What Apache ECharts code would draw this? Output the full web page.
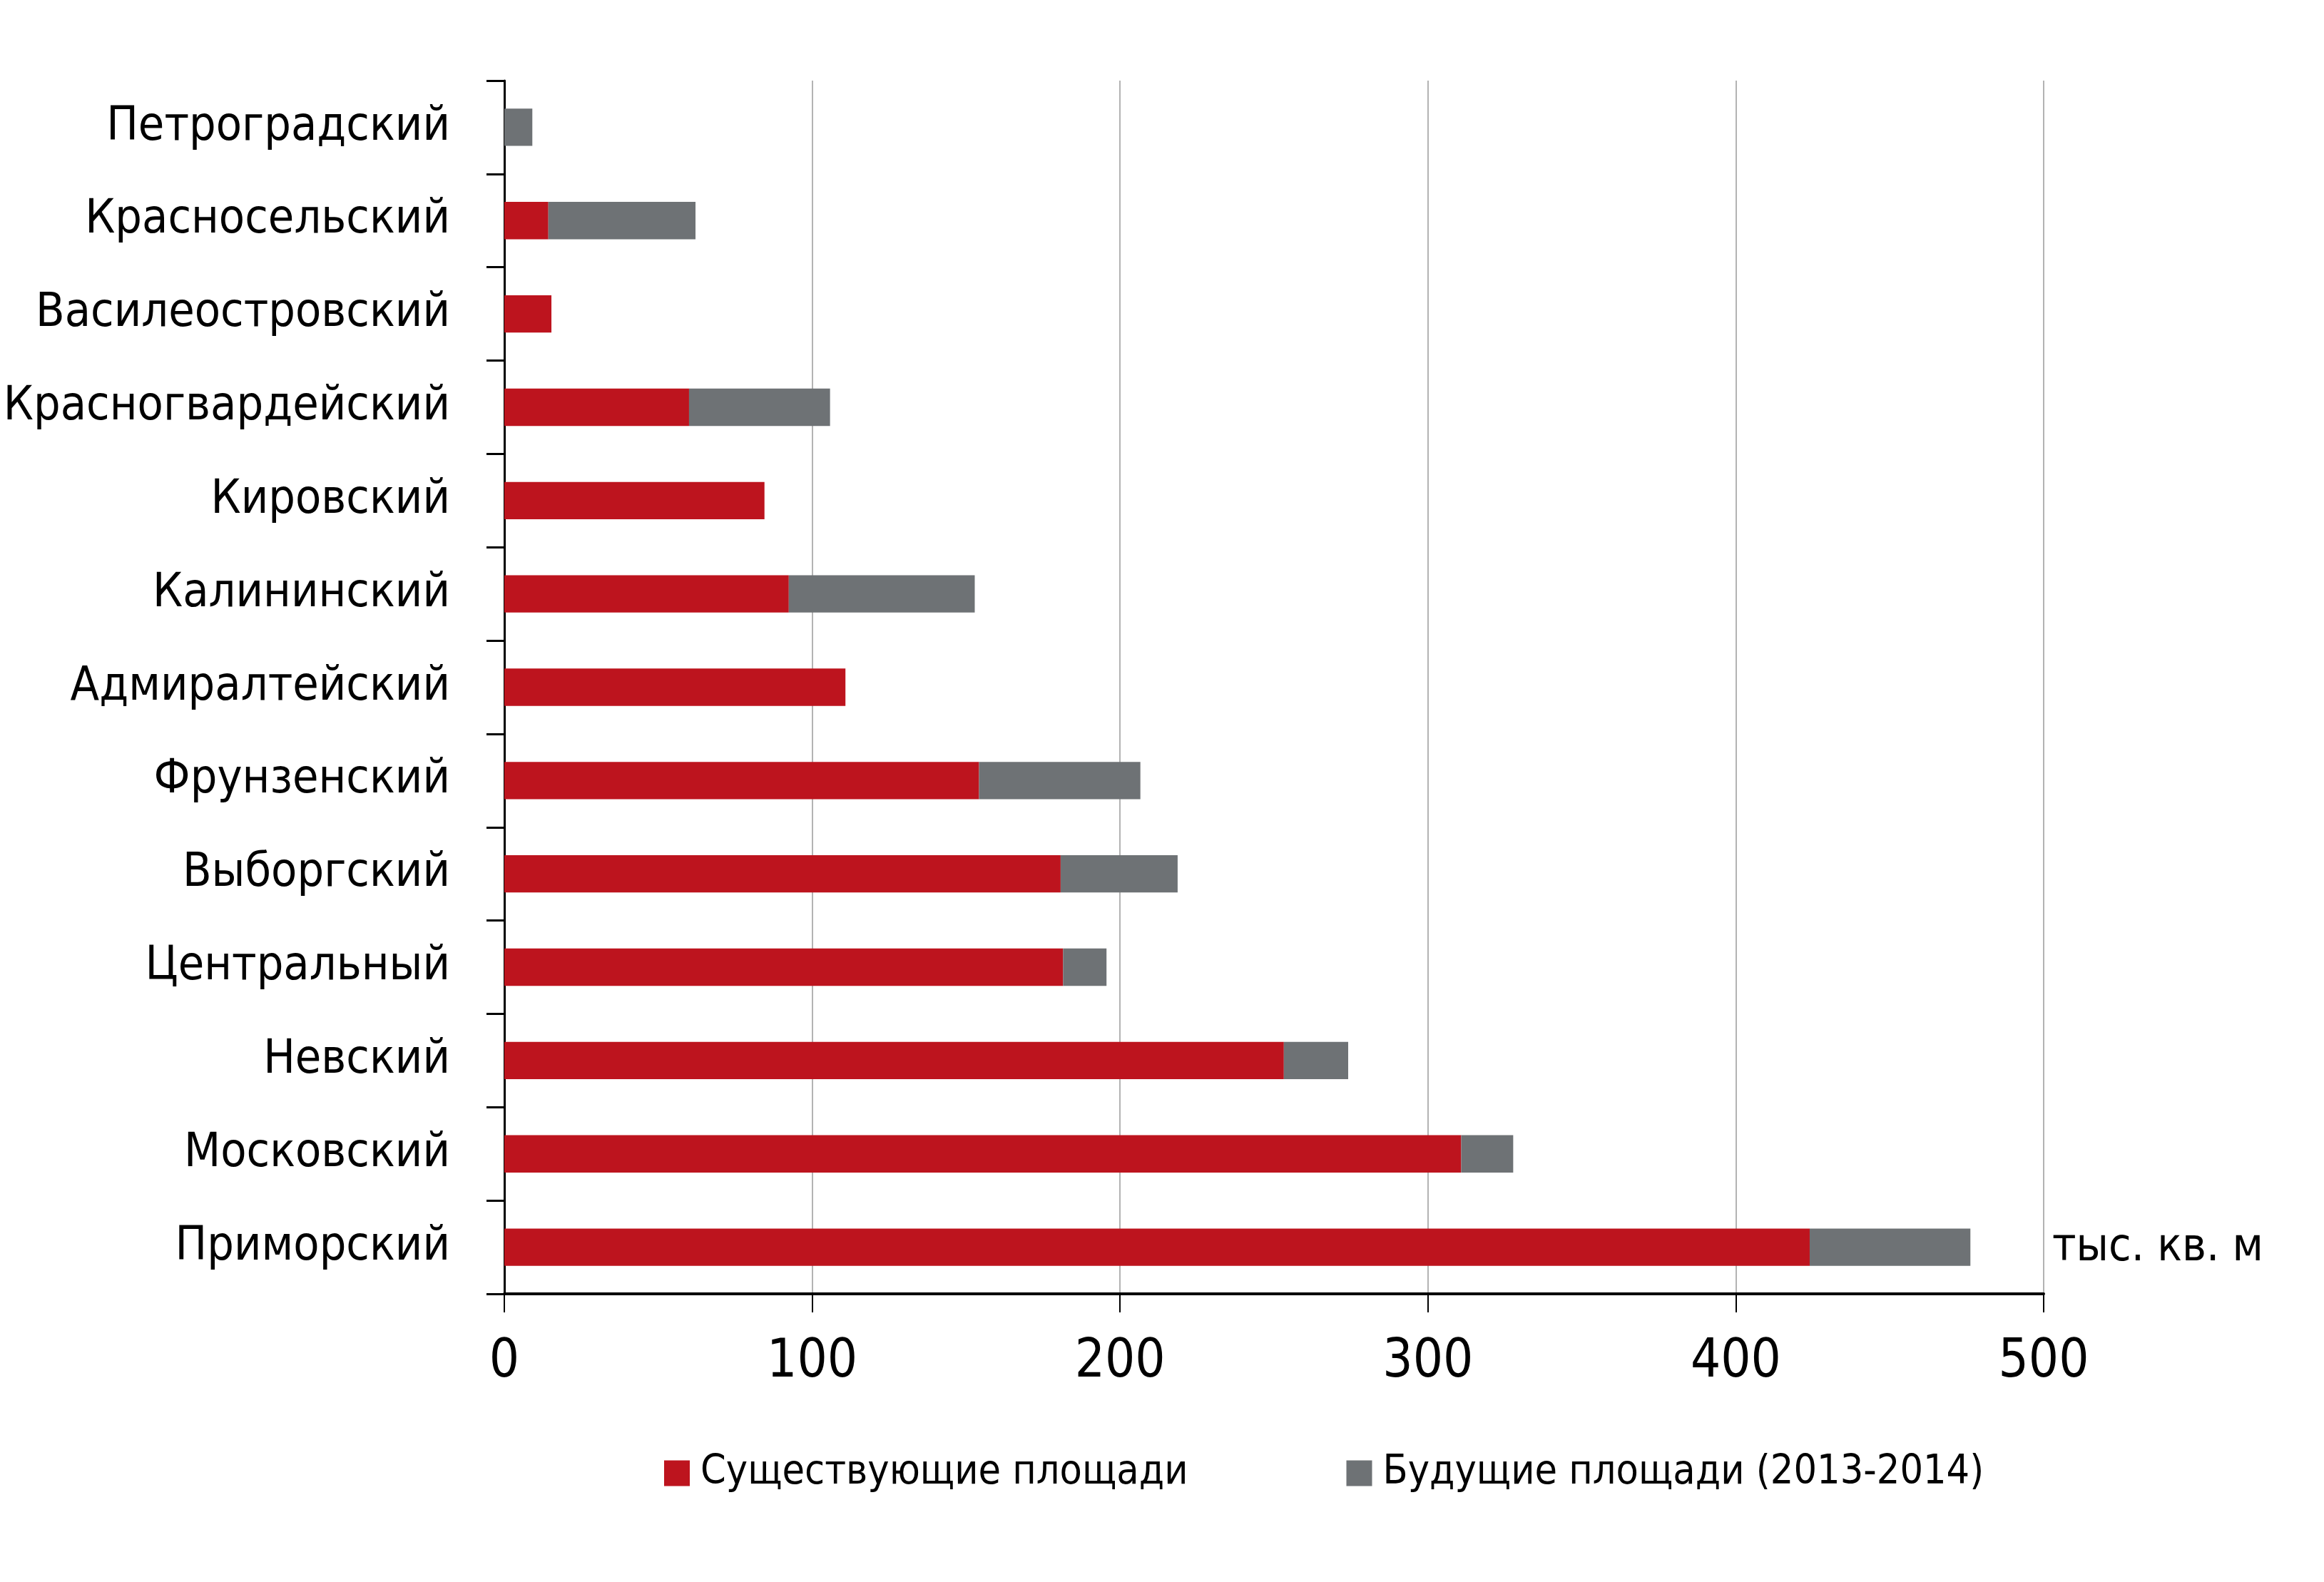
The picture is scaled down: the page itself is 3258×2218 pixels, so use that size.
<!DOCTYPE html>
<html>
<head>
<meta charset="utf-8">
<script src="https://cdn.jsdelivr.net/npm/echarts@6/dist/echarts.min.js"></script>
<style>
  html, body { margin: 0; padding: 0; background: #fff; }
  #main { width: 3258px; height: 2218px; }
</style>
</head>
<body>
<div id="main"></div>
<script>
// districts, top to bottom
var districts = [
  "Петроградский", "Красносельский", "Василеостровский", "Красногвардейский",
  "Кировский", "Калининский", "Адмиралтейский", "Фрунзенский", "Выборгский",
  "Центральный", "Невский", "Московский", "Приморский"
];
// тыс. кв. м
var existing = [0, 14.3, 15.3, 60.0, 84.5, 92.4, 110.8, 154.2, 180.7, 181.5, 253.2, 310.8, 424.0];
var future = [9.1, 47.8, 0, 45.8, 0, 60.4, 0, 52.4, 38.0, 14.1, 20.9, 16.9, 52.2];
var seriesNames = ["Существующие площади", "Будущие площади (2013-2014)"];
var unitLabel = "тыс. кв. м";

void (function() {
  var chart = echarts.init(document.getElementById("main"));
  // no narrow Arial here, so the condensed DejaVu at a smaller size
  var font = '"Liberation Sans Narrow", "DejaVu Sans Condensed", sans-serif';

  var option = {
    backgroundColor: "#fff",
    animation: false,
    textStyle: { fontFamily: font, color: "#000" },
    grid: {
      left: 707, right: 393, top: 113, bottom: 404,
      containLabel: false,
      outerBoundsMode: "none"
    },
    legend: {
      data: seriesNames,
      left: 926,
      top: 2032,
      itemWidth: 36,
      itemHeight: 36,
      itemGap: 222,
      icon: "rect",
      textStyle: { fontFamily: font, fontSize: 57, color: "#000", padding: [0, 0, 0, 10] }
    },
    xAxis: {
      type: "value",
      min: 0,
      max: 500,
      interval: 100,
      axisLine: { show: true, lineStyle: { color: "#000", width: 4 } },
      axisTick: { show: true, length: 26, lineStyle: { color: "#000", width: 2 } },
      axisLabel: { fontFamily: font, fontSize: 74, color: "#000", margin: 60 },
      splitLine: { show: true, lineStyle: { color: "#b3b3b3", width: 2 } }
    },
    yAxis: {
      type: "category",
      data: districts,
      inverse: true,
      axisLine: { show: true, lineStyle: { color: "#000", width: 3 } },
      axisTick: { show: true, length: 25, lineStyle: { color: "#000", width: 3 } },
      axisLabel: { fontFamily: font, fontSize: 66, color: "#000", margin: 76 },
      splitLine: { show: false }
    },
    graphic: [
      {
        type: "text",
        left: 2877,
        top: 1718,
        style: { text: unitLabel, font: '64px ' + font, fill: "#000" }
      }
    ],
    series: [
      {
        name: seriesNames[0],
        type: "bar",
        stack: "total",
        barWidth: "40%",
        itemStyle: { color: "#bd141e" },
        data: existing
      },
      {
        name: seriesNames[1],
        type: "bar",
        stack: "total",
        barWidth: "40%",
        itemStyle: { color: "#6e7275" },
        data: future
      }
    ]
  };

  chart.setOption(option);
})();
</script>
</body>
</html>
